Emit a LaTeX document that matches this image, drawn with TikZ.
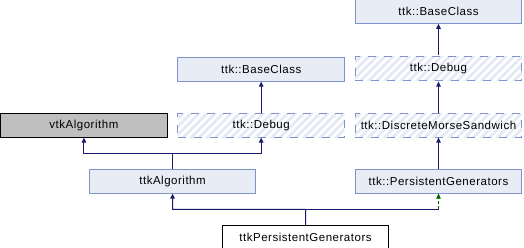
\documentclass[tikz,border=0pt]{standalone}
\usepackage{fontspec}
\setmainfont{Liberation Sans}[LetterSpace=4.5]
\usetikzlibrary{positioning, arrows.meta, calc, patterns.meta}

\definecolor{classfill}{HTML}{E8ECF5}
\definecolor{classedge}{HTML}{7E92CC}
\definecolor{hatch}{HTML}{E4E9F4}
\definecolor{extfill}{HTML}{BFBFBF}
\definecolor{inherit}{HTML}{191970}
\definecolor{protinherit}{HTML}{006400}

\begin{document}
\begin{tikzpicture}[
		font=\fontsize{11.5}{13}\selectfont,
		node distance=31.7pt and 9.6pt,
		class/.style={draw=classedge, fill=classfill, line width=1pt, minimum width=166.7pt, minimum height=23.3pt, inner sep=0pt},
		hidden/.style={class, fill=none, dash pattern=on 8pt off 8pt, pattern={Lines[angle=45, distance=5.7pt, line width=2.8pt]}, pattern color=hatch},
		external/.style={class, draw=black, fill=extfill},
		self/.style={class, draw=black, fill=white},
		edge/.style={draw=inherit, line width=1pt, -{Triangle[length=5pt, width=4.5pt]}},
		protedge/.style={edge, draw=protinherit, dash pattern=on 3pt off 2pt}
		]
		
		\useasboundingbox (0,0) rectangle (524pt,-248pt);
		
		% Right column
		\node[class] (base2) at (438.5pt,-11.65pt) {ttk::BaseClass};
		\node[hidden, below=of base2] (debug2) {ttk::Debug};
		\node[hidden, below=of debug2] (dms) {ttk::DiscreteMorseSandwich};
		\node[class, below=of dms] (pg) {ttk::PersistentGenerators};
		
		\draw[edge] (debug2) -- (base2);
		\draw[edge] (dms) -- (debug2);
		\draw[edge] (pg) -- (dms);
		
		% Middle column
		\node[hidden, left=of dms] (debug1) {ttk::Debug};
		\node[class, above=of debug1] (base1) {ttk::BaseClass};
		\node[external, left=of debug1] (vtkalg) {vtkAlgorithm};
		
		\draw[edge] (debug1) -- (base1);
		
		% ttkAlgorithm inherits from vtkAlgorithm and ttk::Debug
		\node[class, below=of $(vtkalg.south)!0.5!(debug1.south)$] (ttkalg) {ttkAlgorithm};
		\coordinate (j1) at ($(ttkalg.north)!0.5!(ttkalg.north |- debug1.south)$);
		
		\draw[edge] (ttkalg.north) -- (j1) -| (vtkalg.south);
		\draw[edge] (j1) -| (debug1.south);
		
		% Bottom class
		\node[self, below=of $(ttkalg.south)!0.5!(pg.south)$] (ttkpg) {ttkPersistentGenerators};
		\coordinate (j2) at ($(ttkpg.north)!0.5!(ttkpg.north |- pg.south)$);
		
		\draw[edge] (ttkpg.north) -- (j2) -| (ttkalg.south);
		\draw[draw=inherit, line width=1pt] (j2) -- (j2 -| pg.south);
		\draw[protedge] (j2 -| pg.south) -- (pg.south);
		
	\end{tikzpicture}
\end{document}
